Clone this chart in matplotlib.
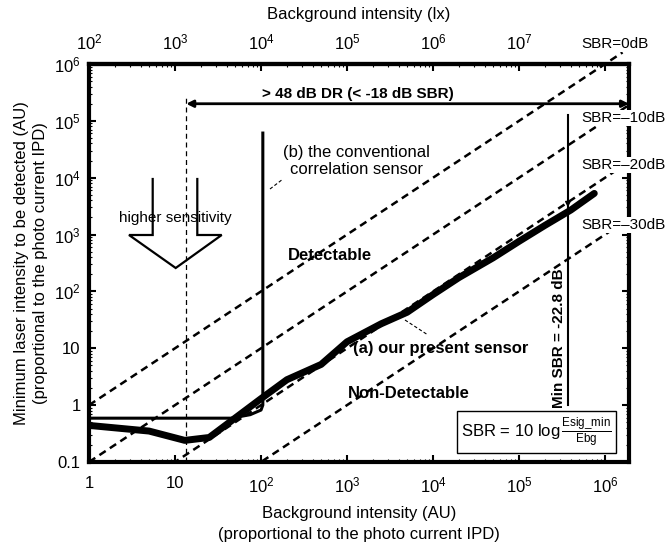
import numpy as np
import matplotlib
matplotlib.use('Agg')
import matplotlib.pyplot as plt
from matplotlib.lines import Line2D
from matplotlib.ticker import NullFormatter, LogLocator

plt.rcParams['font.family'] = ['Liberation Sans', 'DejaVu Sans']
plt.rcParams['mathtext.fontset'] = 'custom'
plt.rcParams['mathtext.rm'] = 'Liberation Sans'
plt.rcParams['mathtext.it'] = 'Liberation Sans'
plt.rcParams['mathtext.bf'] = 'Liberation Sans:bold'

# ---------------- data ----------------
present_x = [1, 5, 13, 25, 100, 200, 500, 1000, 2500, 5000, 1e4, 2e4, 5e4, 1e5, 2e5, 4e5, 7.5e5]
present_y = [0.44, 0.35, 0.24, 0.27, 1.3, 2.8, 5.2, 13, 27, 43, 88, 175, 390, 760, 1450, 2700, 5300]

conv_x = [1, 45, 75, 100, 105, 105]
conv_y = [0.59, 0.59, 0.68, 0.82, 1.0, 6.1e4]

sbr_levels = [0, -10, -20, -30]
sbr_labels = ['SBR=0dB', 'SBR=\u201310dB', 'SBR=\u201320dB', 'SBR=\u201330dB']
sbr_x_range = [1, 1.9e6]

x_ticks = [1, 10, 1e2, 1e3, 1e4, 1e5, 1e6]
x_ticklabels = ['1', '10', '$10^2$', '$10^3$', '$10^4$', '$10^5$', '$10^6$']
y_ticks = [0.1, 1, 10, 1e2, 1e3, 1e4, 1e5, 1e6]
y_ticklabels = ['0.1', '1', '10', '$10^2$', '$10^3$', '$10^4$', '$10^5$', '$10^6$']
top_ticks = [1e2, 1e3, 1e4, 1e5, 1e6, 1e7, 1e8]
top_ticklabels = ['$10^2$', '$10^3$', '$10^4$', '$10^5$', '$10^6$', '$10^7$', '']
lx_per_au = 100

dr_x = [13.5, 1.9e6]
dr_y = 2.0e5
guide_x = 13.5
guide_y = [0.1, 2.8e5]
min_sbr_x = 3.7e5
min_sbr_y = [1.0, 1.26e5]
min_sbr_arrow_y = [6000, 3000]

# ---------------- figure ----------------
W, H = 667, 543
fig = plt.figure(figsize=(W / 100, H / 100), dpi=100)
L, R, T, B = 89, 629, 64, 462
ax = fig.add_axes([L / W, 1 - B / H, (R - L) / W, (B - T) / H])
ax.set_xscale('log')
ax.set_yscale('log')
ax.set_xlim(1, 1.9e6)
ax.set_ylim(0.1, 1e6)


def fx(px):
    return px / W


def fy(py):
    return 1 - py / H


# SBR reference lines
for lev in sbr_levels:
    xs = np.array(sbr_x_range if lev != 0 else [1, 1.6e6])
    ys = xs * 10 ** (lev / 10)
    ax.plot(xs, ys, color='black', lw=1.8, ls=(0, (3, 2)), zorder=2,
            clip_on=(lev != 0))

# thin guide and DR arrow
ax.plot([guide_x, guide_x], guide_y, color='black', lw=0.9, ls=(0, (4, 3)), zorder=2)
ax.annotate('', xy=(dr_x[0], dr_y), xytext=(dr_x[1], dr_y),
            arrowprops=dict(arrowstyle='<|-|>', color='black', lw=2.0,
                            mutation_scale=10, shrinkA=0, shrinkB=0))
ax.text(0.497, 0.925, '> 48 dB DR (< -18 dB SBR)', transform=ax.transAxes,
        ha='center', va='center', fontsize=11, fontweight='bold')

# conventional sensor (b)
ax.plot(conv_x, conv_y, color='black', lw=2.2, zorder=3, solid_joinstyle='round')
# present sensor (a)
ax.plot(present_x, present_y, color='black', lw=5, zorder=4,
        solid_capstyle='round', solid_joinstyle='round')

# Min SBR line
ax.plot([min_sbr_x, min_sbr_x], min_sbr_y, color='black', lw=1.5, zorder=3)
ax.annotate('', xy=(min_sbr_x, min_sbr_arrow_y[1]), xytext=(min_sbr_x, min_sbr_arrow_y[0]),
            arrowprops=dict(arrowstyle='-|>', color='black', lw=1.0,
                            mutation_scale=8, shrinkA=0, shrinkB=0))

# ticks & spines
ax.set_xticks(x_ticks, x_ticklabels)
ax.set_yticks(y_ticks, y_ticklabels)
ax.xaxis.set_minor_locator(LogLocator(base=10, subs=np.arange(2, 10)))
ax.yaxis.set_minor_locator(LogLocator(base=10, subs=np.arange(2, 10)))
ax.xaxis.set_minor_formatter(NullFormatter())
ax.yaxis.set_minor_formatter(NullFormatter())
ax.tick_params(which='both', direction='in', top=False, right=True, labelsize=12)
ax.tick_params(axis='x', pad=10)
ax.tick_params(axis='y', pad=6)
ax.tick_params(which='major', length=5, width=1.5)
ax.tick_params(which='minor', length=2.5, width=0.8)
for s in ax.spines.values():
    s.set_linewidth(3)

sec = ax.secondary_xaxis('top', functions=(lambda x: x * lx_per_au, lambda x: x / lx_per_au))
sec.set_xticks(top_ticks, top_ticklabels)
sec.xaxis.set_minor_locator(LogLocator(base=10, subs=np.arange(2, 10)))
sec.xaxis.set_minor_formatter(NullFormatter())
sec.tick_params(which='both', direction='in', labelsize=12, pad=8)
sec.tick_params(which='major', length=5, width=1.5)
sec.tick_params(which='minor', length=2.5, width=0.8)
sec.spines['top'].set_linewidth(3)
sec.set_xlabel('Background intensity (lx)', fontsize=12, labelpad=10)

ax.set_xlabel('Background intensity (AU)\n(proportional to the photo current IPD)',
              fontsize=12, labelpad=7, linespacing=1.5)
ax.set_ylabel('Minimum laser intensity to be detected (AU)\n(proportional to the photo current IPD)',
              fontsize=12, labelpad=4, linespacing=1.35)

# annotations
fig.text(fx(356), fy(161), '(b) the conventional\ncorrelation sensor', ha='center', va='center',
         fontsize=12, linespacing=1.15)
fig.add_artist(Line2D([fx(270), fx(283)], [fy(189), fy(179)], color='black', lw=0.8,
                      ls=(0, (3, 2))))
fig.text(fx(330), fy(255), 'Detectable', ha='center', va='center', fontsize=12, fontweight='bold')
fig.text(fx(175), fy(218), 'higher sensitivity', ha='center', va='center', fontsize=11)
arrow_px = [(152.7, 179), (152.7, 235), (129, 235), (175.7, 268), (221.7, 235), (197.3, 235), (197.3, 179)]
fig.add_artist(Line2D([fx(p[0]) for p in arrow_px], [fy(p[1]) for p in arrow_px],
                      color='black', lw=1.6, solid_joinstyle='miter'))
fig.text(fx(441), fy(348), '(a) our present sensor', ha='center', va='center',
         fontsize=12, fontweight='bold')
fig.add_artist(Line2D([fx(405), fx(428)], [fy(320), fy(335)], color='black', lw=0.8,
                      ls=(0, (3, 2))))
fig.text(fx(409), fy(394), 'Non-Detectable', ha='center', va='center', fontsize=12, fontweight='bold')
fig.text(fx(559), fy(338), 'Min SBR = -22.8 dB', ha='center', va='center', rotation=90,
         fontsize=11, fontweight='bold')

# SBR labels (cover the right spine)
sbr_label_py = [44, 118, 165, 225]
for lab, py in zip(sbr_labels, sbr_label_py):
    fig.text(fx(581), fy(py), lab, ha='left', va='center', fontsize=11, zorder=10,
             bbox=dict(facecolor='white', edgecolor='none', pad=1.0))

# formula box
fig.text(fx(461), fy(432), r'SBR = 10 log$\,\frac{\mathregular{Esig\_min}}{\mathregular{Ebg}}$',
         ha='left', va='center', fontsize=12, zorder=10,
         bbox=dict(facecolor='white', edgecolor='black', lw=1.0, pad=3))

fig.savefig('out.png', dpi=100)
